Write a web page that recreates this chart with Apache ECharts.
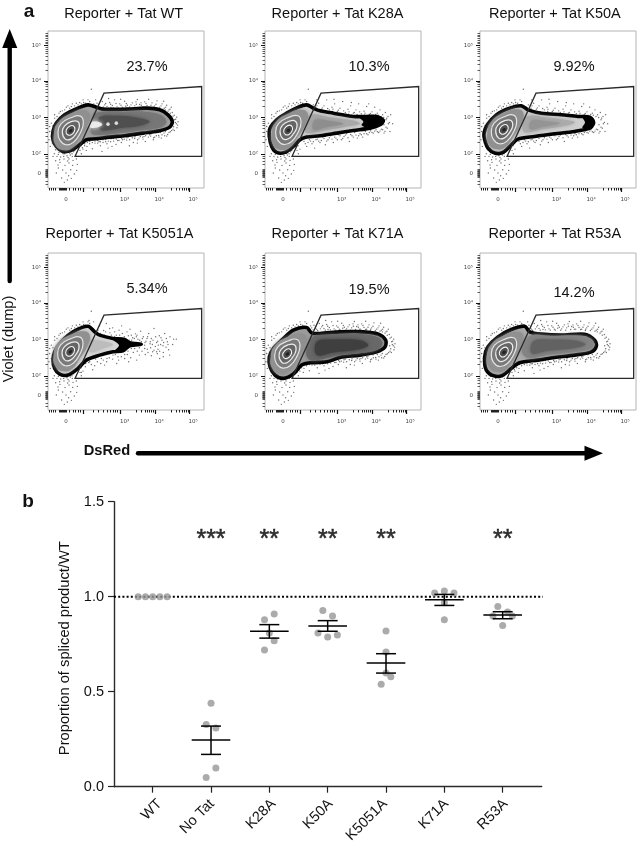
<!DOCTYPE html>
<html><head><meta charset="utf-8">
<style>html,body{margin:0;padding:0;background:#fff}#c{width:638px;height:847px}#c canvas{filter:blur(.35px)}</style>
<script src="https://cdn.jsdelivr.net/npm/echarts@6/dist/echarts.min.js"></script>
</head><body><div id="c"></div>
<script>
// ---- Panel a: flow cytometry (values are instrument channels on a shared scale) ----
const panelNames = ['Reporter + Tat WT','Reporter + Tat K28A','Reporter + Tat K50A','Reporter + Tat K5051A','Reporter + Tat K71A','Reporter + Tat R53A'];
const panelPercents = ['23.7%','10.3%','9.92%','5.34%','19.5%','14.2%'];
const gate = [[226,470],[313,280],[606,260],[606,470]];
const xLabelTicks = [199,375,478,580];
const xLabelTexts = ['0','10³','10⁴','10⁵'];
const yLabelTicks = [137,243,352,463,521];
const yLabelTexts = ['10⁵','10⁴','10³','10²','0'];
const xMajorTicks = [250,362,466,570];
const xMinorTicks = [150,156,162,168,180,183,186,189,192,195,198,201,210,220,228,235,242,280,297,312,322,332,340,347,354,410,425,436,443,450,456,461,515,530,540,548,555,560,565];
const yMajorTicks = [137,243,352,463];
const yMinorTicks = [100,105,110,116,121,126,131,142,147,153,161,169,180,193,211,248,254,260,268,277,288,301,319,357,363,369,377,386,397,410,428,470,476,484,494,510,512,514,516,518,520,522,524,526,528,530,532,545,555];

const ringA = [[-50,8],[-38,-25],[2,-52],[40,-62],[58,-50],[50,-16],[28,20],[4,52],[-24,58],[-46,42]];
const ringB = [[-38,6],[-29,-21],[3,-40],[29,-44],[38,-25],[29,6],[9,34],[-14,42],[-32,29]];
const ringC = [[-25,4],[-18,-15],[3,-28],[21,-28],[26,-12],[16,9],[0,25],[-16,25]];
const ringD = [[-14,2],[-8,-10],[4,-16],[12,-10],[11,2],[2,12],[-9,12]];
const ringE = [[-5,0],[0,-5],[5,-4],[4,2],[-2,5]];
const lobeCentres = [[213,393],[215,392],[217,390],[212,390],[212,397],[217,392]];

const outlineWT = [[160,395],[170,370],[195,345],[235,325],[265,315],[290,322],[310,328],[380,328],[440,325],[480,330],[505,345],[518,365],[510,382],[480,393],[430,400],[380,407],[330,412],[290,417],[260,420],[240,435],[215,452],[190,455],[170,440],[160,420]];
const outlineK28A = [[160,385],[180,360],[210,340],[245,322],[270,315],[290,325],[310,333],[350,340],[410,350],[450,350],[480,350],[500,362],[490,375],[460,385],[410,392],[360,400],[310,408],[270,412],[250,420],[230,440],[205,458],[180,458],[165,440],[158,410]];
const outlineK50A = [[157,400],[167,375],[194,345],[234,325],[269,318],[289,330],[329,340],[389,345],[439,350],[474,352],[486,368],[474,385],[429,395],[369,402],[309,410],[259,418],[239,435],[214,458],[189,460],[169,445],[159,420]];
const outlineK5051A = [[160,415],[165,390],[185,360],[220,330],[265,313],[285,330],[300,340],[340,350],[375,353],[390,363],[425,367],[390,372],[370,387],[340,390],[300,400],[260,415],[235,440],[205,460],[180,457],[165,440]];
const outlineK71A = [[158,405],[170,380],[195,355],[230,325],[270,317],[285,333],[310,335],[370,330],[440,330],[485,337],[507,355],[505,375],[480,390],[430,400],[370,407],[330,420],[280,423],[255,430],[230,457],[200,470],[175,460],[160,435]];
const outlineR53A = [[159,405],[169,375],[199,345],[239,323],[279,313],[294,330],[329,337],[389,340],[459,337],[489,355],[494,373],[479,390],[429,400],[369,407],[319,415],[264,423],[239,440],[214,460],[189,463],[164,445]];

const midWT = [[285,340],[360,336],[430,335],[482,345],[500,365],[485,382],[420,392],[360,400],[300,406],[275,400],[280,365]];
const coreWT = [[300,352],[360,348],[420,355],[450,365],[420,378],[360,385],[310,392],[300,385]];
const paleWT = [[272,368],[295,366],[308,374],[295,382],[272,383]];
const midK28A = [[280,345],[340,352],[410,362],[430,372],[380,382],[320,392],[270,400],[265,380]];
const coreK28A = [[295,360],[350,365],[380,372],[330,382],[290,390]];
const tailK28A = [[425,350],[480,350],[500,362],[490,376],[460,386],[435,376],[440,365]];
const midK50A = [[285,350],[340,352],[400,360],[430,368],[390,380],[330,388],[280,398],[272,380]];
const coreK50A = [[300,362],[350,365],[385,370],[340,380],[295,388]];
const tailK50A = [[454,354],[474,352],[486,368],[474,385],[452,384],[460,368]];
const midK5051A = [[270,355],[310,358],[340,368],[310,380],[275,392],[262,375]];
const tailK5051A = [[335,350],[375,353],[392,362],[425,367],[392,373],[370,387],[342,390],[358,370]];
const midK71A = [[295,342],[370,337],[440,337],[485,347],[497,365],[480,385],[420,395],[360,402],[320,412],[280,415],[268,390],[278,360]];
const coreK71A = [[300,360],[350,353],[430,355],[455,370],[420,384],[350,392],[300,400]];
const midR53A = [[295,342],[360,342],[450,342],[484,356],[480,380],[420,392],[350,399],[290,409],[270,385]];
const coreR53A = [[305,358],[360,353],[430,356],[462,368],[420,380],[350,387],[300,395]];
const whiteSpotsWT = [[325,373],[350,370]];

const dotsLobe = [[172,470],[181,488],[190,462],[196,497],[205,473],[213,510],[220,482],[228,469],[176,505],[199,520],[186,535],[208,490],[233,494],[217,462],[224,523],[168,483],[193,478],[203,541],[237,470],[212,466],[183,472],[198,455],[226,447],[241,452],[178,458],[164,462],[207,528],[189,511],[219,497],[231,512],[175,496],[215,536],[194,548],[170,520],[160,470],[250,448],[245,462],[222,456],[204,484],[187,445],[150,395],[155,370],[165,355],[178,340],[195,330],[210,325],[230,310],[240,308],[225,318],[250,300],[265,300],[275,268],[148,420],[152,440],[160,378],[172,350],[188,333],[205,318],[218,312],[245,312],[258,310],[270,305],[155,410],[150,380],[158,430],[165,345],[182,335],[200,322],[215,320],[235,315],[252,308],[168,450],[176,464],[195,462],[210,460],[225,452],[238,440],[185,458],[202,468],[218,470],[230,478],[192,470],[180,480],[208,478],[244,438]];
const dotsWide = [[285,318],[292,310],[300,322],[308,305],[315,315],[322,320],[330,308],[338,317],[345,300],[352,321],[360,312],[368,322],[375,304],[383,316],[390,321],[398,309],[405,318],[413,299],[420,314],[428,322],[435,306],[442,317],[450,322],[457,309],[465,318],[472,303],[480,322],[487,312],[494,325],[501,316],[508,330],[515,322],[288,300],[327,296],[363,298],[409,306],[447,298],[492,304],[297,314],[334,323],[378,319],[424,309],[461,326],[497,330],[512,340],[520,349],[525,360],[530,372],[522,381],[528,358],[535,366],[516,392],[508,398],[524,392],[532,384],[255,432],[262,440],[270,425],[278,447],[286,430],[294,422],[302,438],[310,428],[318,419],[325,445],[333,426],[341,416],[349,434],[357,412],[365,428],[373,408],[381,421],[389,438],[397,406],[405,416],[413,430],[421,403],[429,412],[437,425],[445,400],[453,409],[461,420],[469,399],[477,407],[485,415],[493,400],[501,409],[260,452],[283,415],[307,455],[337,440],[369,420],[401,428],[433,410],[465,412],[497,395],[272,418],[298,426],[322,432],[354,422],[386,412],[418,415],[450,405],[482,398],[282,312],[289,324],[296,319],[303,326],[311,321],[318,311],[326,325],[333,313],[341,324],[349,311],[356,325],[364,316],[371,325],[380,311],[387,325],[394,315],[402,325],[410,313],[417,323],[425,316],[432,322],[439,311],[447,323],[454,316],[462,322],[469,313],[476,326],[484,318],[490,328],[498,322],[505,334],[511,328],[518,338],[524,346],[531,352],[527,368],[519,372],[534,376],[520,388],[512,396],[504,404],[495,408],[487,405],[478,412],[470,408],[462,414],[454,403],[446,412],[438,408],[430,418],[422,410],[414,420],[406,411],[398,414],[390,420],[382,414],[374,418],[366,416],[358,422],[350,418],[342,424],[334,417],[326,424],[318,426],[310,420],[302,426],[294,430],[286,424],[278,428],[270,432],[263,428],[255,438],[248,444]];
const dotsNarrow = [[290,315],[298,325],[306,310],[314,328],[322,318],[330,300],[338,330],[346,322],[354,312],[362,335],[370,325],[378,305],[386,338],[394,328],[402,318],[410,340],[418,330],[426,312],[434,342],[442,334],[450,320],[458,344],[466,336],[474,322],[482,340],[490,330],[498,345],[506,338],[514,350],[522,345],[518,368],[528,372],[512,385],[505,395],[520,395],[510,355],[502,375],[262,425],[270,440],[278,420],[286,432],[294,445],[302,418],[310,428],[318,412],[326,435],[334,420],[342,408],[350,428],[358,415],[366,405],[374,420],[382,410],[390,402],[398,425],[406,408],[414,398],[422,415],[430,402],[438,412],[446,395],[454,405],[462,393],[470,400],[478,390],[486,398],[494,388],[502,400],[300,300],[352,298],[404,308],[456,312],[348,335],[396,343],[444,346],[285,322],[293,330],[301,318],[309,333],[317,324],[325,336],[333,326],[341,338],[349,328],[357,340],[365,331],[373,342],[381,333],[389,344],[397,336],[405,346],[413,338],[421,344],[429,336],[437,348],[445,340],[453,347],[461,341],[469,346],[477,344],[485,346],[493,350],[501,353],[508,360],[515,372],[508,382],[498,390],[490,394],[482,396],[474,394],[466,398],[458,398],[450,402],[442,402],[434,405],[426,408],[418,406],[410,412],[402,404],[394,414],[386,406],[378,416],[370,408],[362,420],[354,412],[346,418],[338,414],[330,424],[322,416],[314,422],[306,424],[298,420],[290,426],[282,424],[274,428],[266,432]];
const dotsFan = [[300,312],[312,326],[320,305],[331,333],[339,318],[350,340],[358,325],[366,312],[374,345],[382,330],[391,322],[399,348],[407,336],[415,352],[423,328],[431,345],[439,358],[447,335],[455,350],[463,320],[471,362],[479,342],[487,355],[495,335],[503,360],[511,345],[519,368],[530,352],[389,355],[403,373],[411,362],[419,378],[427,388],[435,370],[443,382],[451,366],[459,390],[467,374],[475,382],[483,368],[491,392],[499,376],[507,384],[437,398],[455,402],[473,396],[491,405],[419,400],[401,392],[383,398],[365,405],[347,398],[329,408],[311,415],[293,420],[275,428],[257,435],[285,432],[303,425],[321,420],[339,412],[357,415],[375,410],[393,408],[411,415],[267,422],[245,452],[279,444],[315,430],[351,425],[387,420],[360,340],[378,360],[395,340],[410,345],[425,360],[345,330],[330,320],[315,340],[302,335],[442,350],[458,368],[474,358],[490,372],[505,368],[522,352],[510,400],[480,410],[282,300],[268,296],[295,325],[305,342],[318,330],[325,345],[335,340],[345,345],[355,348],[368,335],[376,352],[386,342],[396,355],[404,350],[412,340],[420,355],[428,350],[436,362],[444,345],[452,360],[460,355],[468,345],[476,370],[484,348],[492,362],[500,350],[435,380],[445,392],[453,378],[463,385],[471,390],[480,388],[405,380],[413,388],[395,380],[385,388],[375,398],[355,405],[340,400],[322,410],[305,410],[288,412],[270,420],[258,425]];

// ---- Panel b: proportion of spliced product ----
const categories = ['WT','No Tat','K28A','K50A','K5051A','K71A','R53A'];
const categoryTicks = [0,1,2,3,4,5,6];
const categoryLabelAt = [0.12,1.017,2.07,3.05,3.983,5.034,6.05];
const valuesWT = [1,1,1,1,1];
const valuesNoTat = [0.439,0.328,0.309,0.098,0.049];
const valuesK28A = [0.909,0.879,0.809,0.768,0.719];
const valuesK50A = [0.928,0.898,0.809,0.798,0.788];
const valuesK5051A = [0.819,0.709,0.598,0.579,0.539];
const valuesK71A = [1.03,1.019,1.019,0.968,0.879];
const valuesR53A = [0.949,0.919,0.898,0.898,0.849];
const offsetsWT = [-0.248,-0.124,0,0.124,0.248];
const offsetsNoTat = [0,-0.083,0.083,0.083,-0.083];
const offsetsK28A = [0.083,-0.083,0,0.083,-0.083];
const offsetsK50A = [-0.083,0.083,-0.166,0.166,0];
const offsetsK5051A = [0,0,0,0.083,-0.083];
const offsetsK71A = [0,-0.166,0.166,0,0];
const offsetsR53A = [-0.083,0.083,-0.166,0.166,0];
const means = [1,0.246,0.818,0.846,0.651,0.984,0.904];
const upperBars = [1,0.319,0.853,0.874,0.700,1.012,0.921];
const lowerBars = [1,0.170,0.782,0.818,0.598,0.954,0.884];
const significance = ['','***','**','**','**','','**'];

const FONT = '"Liberation Sans", Arial, sans-serif';
const panelBoxes = [[48,31],[265,31],[480,31],[48,253],[265,253],[480,253]];
const panelTitleAt = [[123.7,14],[337.5,14],[554.8,14],[119.5,234],[337.5,234],[554.8,234]];
const percentAt = [[147,67],[369,67],[574,67],[147,289],[369,290],[574,293]];

const grids=[], xAxes=[], yAxes=[], series=[], titles=[];

function polySeries(xi, yi, pts, style, z, smooth){
  series.push({type:'custom', xAxisIndex:xi, yAxisIndex:yi, z:z, silent:true, clip:false,
    coordinateSystem:'cartesian2d', data:pts, encode:{x:0,y:1},
    renderItem:function(params,api){
      if(params.dataIndex!==0) return null;
      return {type:'polygon', shape:{points:pts.map(p=>api.coord(p)), smooth:smooth}, style:style};
    }});
}
function soft(col){return {fill:col, shadowBlur:4, shadowColor:col};}

const panelLayers = [
  {outline:outlineWT, base:'#a4a4a4', layers:[[midWT,'#777'],[coreWT,'#4f4f4f'],[paleWT,'#ececec']], dots:dotsWide, spots:whiteSpotsWT},
  {outline:outlineK28A, base:'#cfcfcf', layers:[[midK28A,'#a8a8a8'],[coreK28A,'#8e8e8e'],[tailK28A,'#000']], dots:dotsNarrow},
  {outline:outlineK50A, base:'#cfcfcf', layers:[[midK50A,'#ababab'],[coreK50A,'#949494'],[tailK50A,'#000']], dots:dotsNarrow},
  {outline:outlineK5051A, base:'#d8d8d8', layers:[[midK5051A,'#bcbcbc'],[tailK5051A,'#000']], dots:dotsFan},
  {outline:outlineK71A, base:'#9c9c9c', layers:[[midK71A,'#686868'],[coreK71A,'#3f3f3f']], dots:dotsWide},
  {outline:outlineR53A, base:'#ababab', layers:[[midR53A,'#848484'],[coreR53A,'#626262']], dots:dotsWide}
];

function caption(text,x,y,size,weight){
  titles.push({text:text, left:x, top:y, padding:0, textAlign:'center', textVerticalAlign:'middle',
    textStyle:{fontFamily:FONT,fontSize:size,fontWeight:weight,color:'#111'}});
}

panelBoxes.forEach(function(box,i){
  grids.push({left:box[0], top:box[1], width:156, height:157, show:true, borderColor:'#b4b4b4', borderWidth:1, backgroundColor:'#fff', containLabel:false});
  const g=i, xi=xAxes.length, yi=yAxes.length;
  xAxes.push({type:'value', gridIndex:g, min:145, max:613, position:'bottom', splitLine:{show:false},
    axisLine:{show:false},
    axisTick:{show:true, length:4, inside:false, customValues:xMajorTicks, lineStyle:{color:'#111',width:1.2}},
    axisLabel:{show:true, margin:9, fontSize:5.5, color:'#444', fontFamily:'"DejaVu Sans"', customValues:xLabelTicks,
      formatter:function(v){return xLabelTexts[xLabelTicks.indexOf(v)];}}});
  xAxes.push({type:'value', gridIndex:g, min:145, max:613, position:'bottom', splitLine:{show:false},
    axisLine:{show:false}, axisLabel:{show:false},
    axisTick:{show:true, length:2.5, customValues:xMinorTicks, lineStyle:{color:'#222',width:1}}});
  yAxes.push({type:'value', gridIndex:g, min:93, max:565, inverse:true, position:'left', splitLine:{show:false},
    axisLine:{show:false},
    axisTick:{show:true, length:4, customValues:yMajorTicks, lineStyle:{color:'#111',width:1}},
    axisLabel:{show:true, margin:7, fontSize:5.5, color:'#444', fontFamily:'"DejaVu Sans"', customValues:yLabelTicks,
      formatter:function(v){return yLabelTexts[yLabelTicks.indexOf(v)];}}});
  yAxes.push({type:'value', gridIndex:g, min:93, max:565, inverse:true, position:'left', splitLine:{show:false},
    axisLine:{show:false}, axisLabel:{show:false},
    axisTick:{show:true, length:2.5, customValues:yMinorTicks, lineStyle:{color:'#333',width:.8}}});

  const p=panelLayers[i], c=lobeCentres[i];
  const dots=dotsLobe.concat(p.dots);
  series.push({type:'scatter', xAxisIndex:xi, yAxisIndex:yi, z:2, silent:true, symbolSize:1.4, data:dots,
    itemStyle:{color:'#333',opacity:.7}});
  polySeries(xi,yi,p.outline,{fill:p.base,stroke:'#000',lineWidth:3.6},3,0.3);
  p.layers.forEach(function(l,k){
    polySeries(xi,yi,l[0],l[1]==='#000'?{fill:'#000'}:soft(l[1]),4+k*0.1,0.35);
  });
  const rel=function(r){return r.map(q=>[q[0]+c[0],q[1]+c[1]]);};
  polySeries(xi,yi,rel(ringA),soft('#909090'),5,0.5);
  polySeries(xi,yi,rel(ringB),{fill:'#7a7a7a',stroke:'#e4e4e4',lineWidth:1.2},5.1,0.5);
  polySeries(xi,yi,rel(ringC),{fill:'#656565',stroke:'#ececec',lineWidth:1.2},5.2,0.5);
  polySeries(xi,yi,rel(ringD),{fill:'#4c4c4c',stroke:'#f4f4f4',lineWidth:1.1},5.3,0.5);
  polySeries(xi,yi,rel(ringE),{fill:'#222'},5.4,0.5);
  polySeries(xi,yi,gate,{fill:'none',stroke:'#2a2a2a',lineWidth:1.3},6,0);
  if(p.spots) series.push({type:'scatter', xAxisIndex:xi, yAxisIndex:yi, z:7, silent:true, symbolSize:3.6, data:p.spots, itemStyle:{color:'#fff'}});

  caption(panelNames[i],panelTitleAt[i][0],panelTitleAt[i][1],14.5,'normal');
  caption(panelPercents[i],percentAt[i][0],percentAt[i][1],14.5,'normal');
});

// Panel b grid
const gb=grids.length, xb=xAxes.length, yb=yAxes.length;
grids.push({left:114, top:501.7, width:427.7, height:285});
xAxes.push({type:'value', gridIndex:gb, min:-0.663, max:6.669, position:'bottom', splitLine:{show:false},
  axisLine:{show:true, onZero:false, lineStyle:{color:'#2b2b2b',width:1.4}},
  axisTick:{show:true, length:6, customValues:categoryTicks, lineStyle:{color:'#222',width:1.2}},
  axisLabel:{show:true, rotate:45, margin:15, fontSize:14.5, color:'#111', fontFamily:FONT, hideOverlap:false,
    customValues:categoryLabelAt, formatter:function(v){return categories[categoryLabelAt.indexOf(v)];}}});
yAxes.push({type:'value', gridIndex:gb, min:0, max:1.5, interval:0.5, position:'left', splitLine:{show:false},
  name:'Proportion of spliced product/WT', nameLocation:'middle', nameGap:40,
  nameTextStyle:{fontFamily:FONT,fontSize:14.7,color:'#111',padding:[0,8,0,0]},
  axisLine:{show:true, onZero:false, lineStyle:{color:'#2b2b2b',width:1.4}},
  axisTick:{show:true, length:6, lineStyle:{color:'#222',width:1.2}},
  axisLabel:{show:true, margin:10, fontSize:14.5, color:'#111', fontFamily:FONT, formatter:function(v){return v.toFixed(1);}}});

series.push({type:'line', xAxisIndex:xb, yAxisIndex:yb, z:2, silent:true, symbol:'none', data:[[-0.663,1],[6.69,1]],
  lineStyle:{color:'#000',width:2,type:[2,2.2]}});

const groupValues=[valuesWT,valuesNoTat,valuesK28A,valuesK50A,valuesK5051A,valuesK71A,valuesR53A];
const groupOffsets=[offsetsWT,offsetsNoTat,offsetsK28A,offsetsK50A,offsetsK5051A,offsetsK71A,offsetsR53A];
const pts=[];
groupValues.forEach(function(vals,g){vals.forEach(function(v,k){pts.push([g+groupOffsets[g][k],v]);});});
series.push({type:'scatter', xAxisIndex:xb, yAxisIndex:yb, z:3, silent:true, symbolSize:7, data:pts, itemStyle:{color:'#969696'}});

const MEAN_HALF=0.331, CAP_HALF=0.171;
const errData=[];
means.forEach(function(m,g){ if(g>0) errData.push([g,m,upperBars[g],lowerBars[g]]); });
series.push({type:'custom', xAxisIndex:xb, yAxisIndex:yb, z:4, silent:true, data:errData, encode:{x:0,y:1},
  renderItem:function(params,api){
    const x=api.value(0), m=api.value(1), u=api.value(2), l=api.value(3);
    const seg=function(a,b,c,d){
      const p=api.coord([a,b]), q=api.coord([c,d]);
      return {type:'line',shape:{x1:p[0],y1:p[1],x2:q[0],y2:q[1]},style:{stroke:'#000',lineWidth:1.5}};
    };
    return {type:'group',children:[
      seg(x-MEAN_HALF,m,x+MEAN_HALF,m), seg(x,u,x,l),
      seg(x-CAP_HALF,u,x+CAP_HALF,u), seg(x-CAP_HALF,l,x+CAP_HALF,l)
    ]};
  }});
const sigData=[];
significance.forEach(function(s,g){ if(s) sigData.push({value:[g,1.33],label:{formatter:s}}); });
series.push({type:'scatter', xAxisIndex:xb, yAxisIndex:yb, z:5, silent:true, symbolSize:0, data:sigData,
  label:{show:true, position:'inside', fontFamily:FONT, fontSize:25, color:'#000', textBorderColor:'#000', textBorderWidth:0.5, offset:[0,6]}});

caption('a',29,12,19,'bold');
caption('b',28,502,19,'bold');
caption('DsRed',107,451,14.7,'bold');

const graphics=[
  {type:'line', z:10, shape:{x1:9.7,y1:46,x2:9.7,y2:281}, style:{stroke:'#000',lineWidth:4.4,lineCap:'round'}},
  {type:'polygon', z:10, shape:{points:[[9.7,29],[17.3,48],[2.2,48]]}, style:{fill:'#000'}},
  {type:'line', z:10, shape:{x1:138,y1:453.3,x2:586,y2:453.3}, style:{stroke:'#000',lineWidth:4.4,lineCap:'round'}},
  {type:'polygon', z:10, shape:{points:[[603,453.3],[584.5,445.8],[584.5,460.8]]}, style:{fill:'#000'}},
  {type:'text', z:10, x:9, y:339, rotation:Math.PI/2, style:{text:'Violet (dump)', fontFamily:FONT, fontSize:14.6, fill:'#111', textAlign:'center', textVerticalAlign:'middle'}}
];

const chart=echarts.init(document.getElementById('c'),null,{width:638,height:847,renderer:'canvas'});
chart.setOption({animation:false, backgroundColor:'#fff', title:titles, grid:grids, xAxis:xAxes, yAxis:yAxes, series:series, graphic:graphics, tooltip:{show:false}, legend:{show:false}});
</script></body></html>
